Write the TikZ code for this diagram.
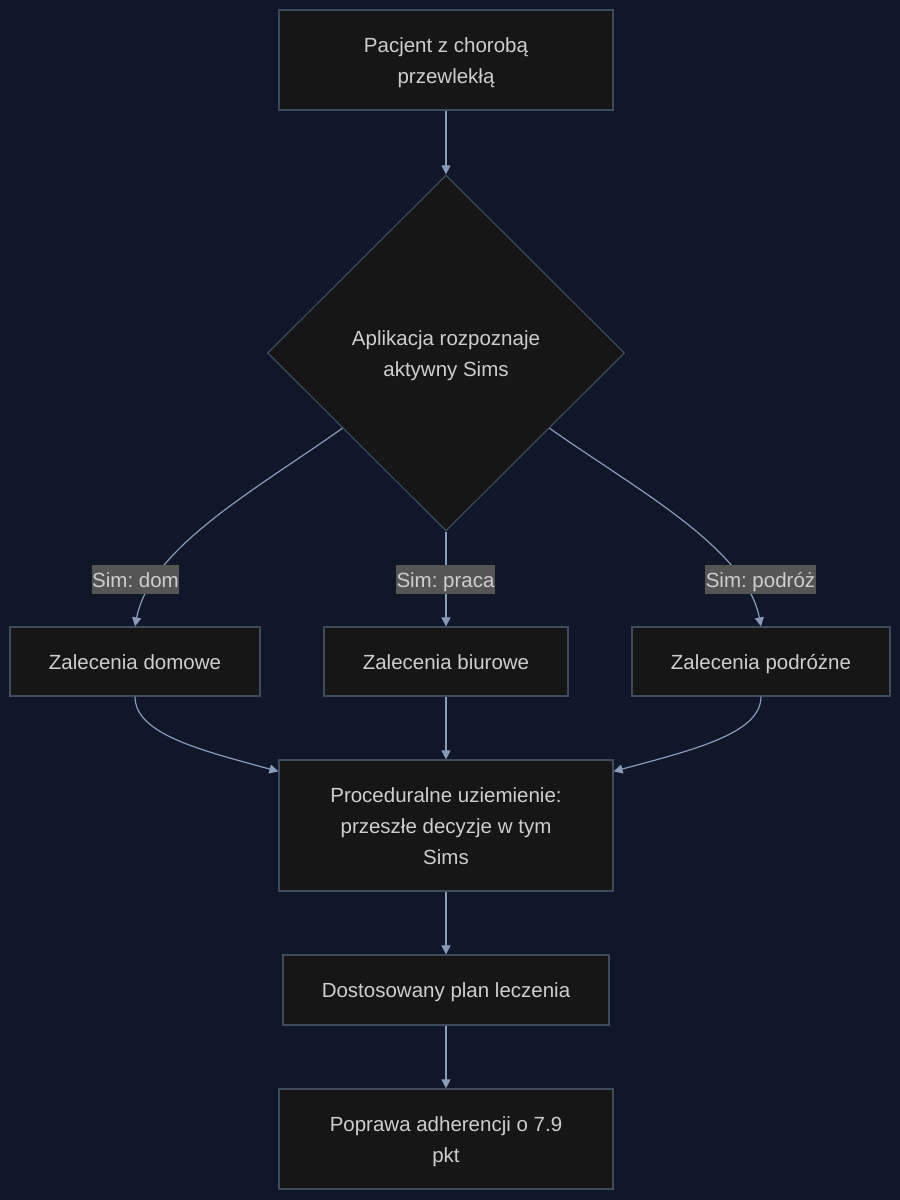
\documentclass[tikz,border=0pt]{standalone}
\usepackage{fontspec}
\setmainfont{Liberation Sans}
\usetikzlibrary{arrows.meta,shapes.geometric}
\frenchspacing

\definecolor{bgnavy}{RGB}{15,23,41}
\definecolor{boxfill}{RGB}{22,22,22}
\definecolor{boxline}{RGB}{62,74,94}
\definecolor{edgeline}{RGB}{138,155,184}
\definecolor{lblfill}{RGB}{85,85,85}
\definecolor{txt}{RGB}{206,206,206}

% struts so every line box is 31pt high
\newcommand{\bs}{\rule[-8pt]{0pt}{31pt}}
\newcommand{\lblstrut}{\rule[-7pt]{0pt}{29pt}}

\begin{document}
\begin{tikzpicture}[x=1pt,y=-1pt]
\tikzset{box/.style = {shape=rectangle,draw=boxline,fill=boxfill,line width=1.2pt,inner sep=0pt,
  text=txt,align=center,font=\fontsize{20.5}{31}\selectfont}}
\tikzset{decision/.style = {box,shape=diamond,minimum width=357pt,minimum height=356pt}}
\tikzset{edge/.style = {draw=edgeline,line width=1.2pt,-{Triangle[length=9pt,width=9pt]}}}
\tikzset{simlabel/.style = {fill=lblfill,text=txt,inner xsep=0.5pt,inner ysep=0pt,
  font=\fontsize{20.5}{31}\selectfont,execute at begin node=\lblstrut}}

\fill[bgnavy] (0,0) rectangle (900,1200);

\node[box, minimum width=334pt, minimum height=100pt] (pac)  at (446,60)    {\bs Pacjent z chorobą\\\bs przewlekłą};
\node[decision]                                       (dia)  at (446,353)   {\bs Aplikacja rozpoznaje\\\bs aktywny Sims};
\node[box, minimum width=250pt, minimum height=69pt]  (dom)  at (135,661.5) {\bs Zalecenia domowe};
\node[box, minimum width=244pt, minimum height=69pt]  (biu)  at (446,661.5) {\bs Zalecenia biurowe};
\node[box, minimum width=258pt, minimum height=69pt]  (pod)  at (761,661.5) {\bs Zalecenia podróżne};
\node[box, minimum width=334pt, minimum height=131pt] (proc) at (446,825.5) {\bs Proceduralne uziemienie:\\\bs przeszłe decyzje w tym\\\bs Sims};
\node[box, minimum width=326pt, minimum height=70pt]  (dost) at (446,990)   {\bs Dostosowany plan leczenia};
\node[box, minimum width=334pt, minimum height=100pt] (pop)  at (446,1139)  {\bs Poprawa adherencji o 7.9\\\bs pkt};

\draw[edge] (pac) -- (dia);
\draw[edge] (dia.216) .. controls (255,490) and (150,548) .. (dom.north);
\draw[edge] (dia.south) -- (biu.north);
\draw[edge] (dia.-36) .. controls (637,490) and (746,548) .. (pod.north);
\draw[edge] (dom.south) .. controls (135,734) and (200,750) .. ([yshift=-12pt]proc.north west);
\draw[edge] (biu.south) -- (proc.north);
\draw[edge] (pod.south) .. controls (761,734) and (692,750) .. ([yshift=-12pt]proc.north east);
\draw[edge] (proc) -- (dost);
\draw[edge] (dost) -- (pop);

\node[simlabel] (ldom) at (135.5,579.5) {Sim: dom};
\node[simlabel] (lbiu) at (445.5,579.5) {Sim: praca};
\node[simlabel] (lpod) at (760.5,579.5) {Sim: podróż};
\end{tikzpicture}
\end{document}
